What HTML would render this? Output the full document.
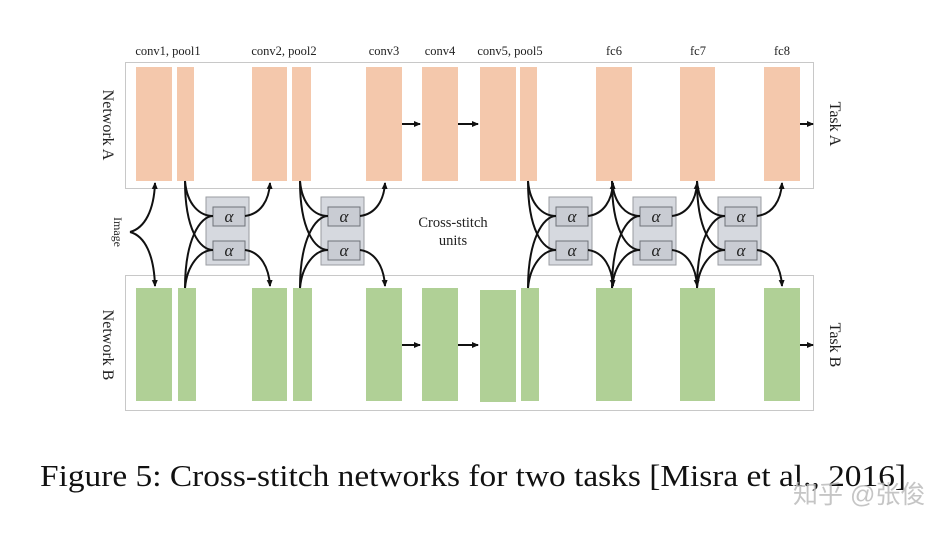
<!DOCTYPE html>
<html><head><meta charset="utf-8"><style>
html,body{margin:0;padding:0;background:#fff;}
svg{display:block;}
</style></head><body>
<svg width="950" height="534" viewBox="0 0 950 534" xmlns="http://www.w3.org/2000/svg">
<defs>
<marker id="ah" markerWidth="8" markerHeight="8" refX="6" refY="4" orient="auto" markerUnits="userSpaceOnUse">
<path d="M0,1 L7,4 L0,7 Z" fill="#111"/>
</marker>
<g id="unit">
<rect x="21" y="197" width="43" height="68" fill="#d6d9df" stroke="#9a9ca2" stroke-width="1"/>
<rect x="28" y="207" width="32" height="19" fill="#c9ccd3" stroke="#6f7278" stroke-width="1"/>
<rect x="28" y="241" width="32" height="19" fill="#c9ccd3" stroke="#6f7278" stroke-width="1"/>
<text x="44" y="222" font-family="Liberation Serif, serif" font-style="italic" font-size="17" text-anchor="middle" fill="#222">α</text>
<text x="44" y="256" font-family="Liberation Serif, serif" font-style="italic" font-size="17" text-anchor="middle" fill="#222">α</text>
<g fill="none" stroke="#111" stroke-width="2">
<path d="M0,181 C2,205 15,216 28,216"/>
<path d="M0,181 C0,230 15,250 28,250"/>
<path d="M0,288 C0,240 15,216 28,216"/>
<path d="M0,288 C2,265 15,250 28,250"/>
<path d="M60,216 C76,214 84,200 85,183" marker-end="url(#ah)"/>
<path d="M60,250 C76,252 84,268 85,286" marker-end="url(#ah)"/>
</g>
</g>
</defs>

<rect x="125.5" y="62.5" width="688" height="126" fill="none" stroke="#c8c8c8"/>
<rect x="125.5" y="275.5" width="688" height="135" fill="none" stroke="#c8c8c8"/>

<g font-family="Liberation Serif, serif" font-size="12.5" fill="#222" text-anchor="middle">
<text x="168" y="55">conv1, pool1</text>
<text x="284" y="55">conv2, pool2</text>
<text x="384" y="55">conv3</text>
<text x="440" y="55">conv4</text>
<text x="510" y="55">conv5, pool5</text>
<text x="614" y="55">fc6</text>
<text x="698" y="55">fc7</text>
<text x="782" y="55">fc8</text>
</g>

<g fill="#f4c8ac">
<rect x="136" y="67" width="36" height="114"/>
<rect x="177" y="67" width="17" height="114"/>
<rect x="252" y="67" width="35" height="114"/>
<rect x="292" y="67" width="19" height="114"/>
<rect x="366" y="67" width="36" height="114"/>
<rect x="422" y="67" width="36" height="114"/>
<rect x="480" y="67" width="36" height="114"/>
<rect x="520" y="67" width="17" height="114"/>
<rect x="596" y="67" width="36" height="114"/>
<rect x="680" y="67" width="35" height="114"/>
<rect x="764" y="67" width="36" height="114"/>
</g>
<g fill="#b0d096">
<rect x="136" y="288" width="36" height="113"/>
<rect x="178" y="288" width="18" height="113"/>
<rect x="252" y="288" width="35" height="113"/>
<rect x="293" y="288" width="19" height="113"/>
<rect x="366" y="288" width="36" height="113"/>
<rect x="422" y="288" width="36" height="113"/>
<rect x="480" y="290" width="36" height="112"/>
<rect x="521" y="288" width="18" height="113"/>
<rect x="596" y="288" width="36" height="113"/>
<rect x="680" y="288" width="35" height="113"/>
<rect x="764" y="288" width="36" height="113"/>
</g>

<g stroke="#111" stroke-width="2" fill="none">
<path d="M402,124 L420,124" marker-end="url(#ah)"/>
<path d="M458,124 L478,124" marker-end="url(#ah)"/>
<path d="M800,124 L813,124" marker-end="url(#ah)"/>
<path d="M402,345 L420,345" marker-end="url(#ah)"/>
<path d="M458,345 L478,345" marker-end="url(#ah)"/>
<path d="M800,345 L813,345" marker-end="url(#ah)"/>
<path d="M130,232 C145,228 154,210 155,183" marker-end="url(#ah)"/>
<path d="M130,232 C145,236 154,255 155,286" marker-end="url(#ah)"/>
</g>

<use href="#unit" transform="translate(185,0)"/>
<use href="#unit" transform="translate(300,0)"/>
<use href="#unit" transform="translate(528,0)"/>
<use href="#unit" transform="translate(612,0)"/>
<use href="#unit" transform="translate(697,0)"/>

<text x="453" y="227" font-family="Liberation Serif, serif" font-size="14.5" fill="#222" text-anchor="middle">Cross-stitch</text>
<text x="453" y="245" font-family="Liberation Serif, serif" font-size="14.5" fill="#222" text-anchor="middle">units</text>

<g font-family="Liberation Serif, serif" font-size="16" fill="#222" text-anchor="middle">
<text transform="translate(103,125) rotate(90)">Network A</text>
<text transform="translate(103,345) rotate(90)">Network B</text>
<text transform="translate(830,124) rotate(90)">Task A</text>
<text transform="translate(830,345) rotate(90)">Task B</text>
<text transform="translate(114,232) rotate(90)" font-size="12">Image</text>
</g>

<text x="40" y="486" font-family="Liberation Serif, serif" font-size="31" fill="#111" textLength="866" lengthAdjust="spacingAndGlyphs">Figure 5: Cross-stitch networks for two tasks [Misra et al., 2016]</text>
<text x="793" y="503" font-family="Liberation Sans, 'Noto Sans CJK SC', sans-serif" font-size="25" fill="#bbb" fill-opacity="0.85">知乎 @张俊</text>
</svg>
</body></html>
